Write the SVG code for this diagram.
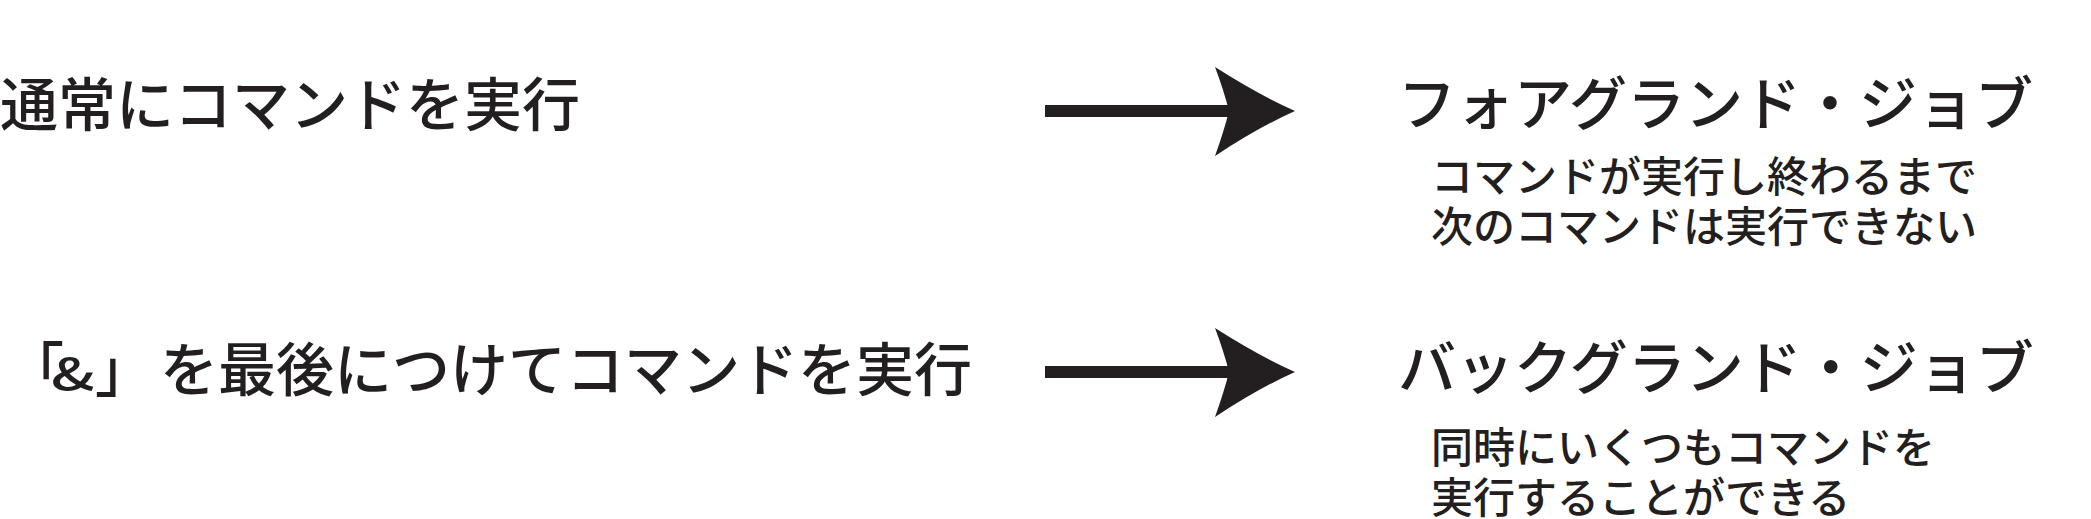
<svg xmlns="http://www.w3.org/2000/svg" xmlns:xlink="http://www.w3.org/1999/xlink" width="2091" height="519" viewBox="0 0 2091 519">
  <style>
    .t { font-family: "Noto Sans CJK JP", "Noto Sans", sans-serif; fill: #231f20; font-weight: 500; }
    .big { font-size: 58px; }
    .small { font-size: 42px; }
    .amp { font-size: 44px; }
    .line { stroke: #231f20; stroke-width: 12; fill: none; }
    .head { fill: #231f20; }
  </style>
  <defs>
    <path id="arrowhead" d="M 1295,0 Q 1259,-16 1215,-44 Q 1224,-20 1229,0 Q 1224,20 1215,45 Q 1259,16 1295,0 Z"/>
  </defs>
  <rect width="2091" height="519" fill="#ffffff"/>

  <g id="node-normal">
    <text class="t big" x="0" y="126">通常にコマンドを実行</text>
  </g>
  <g id="node-amp">
    <text class="t big" y="391"><tspan x="6">「</tspan><tspan x="95">」</tspan><tspan x="160">を最後につけてコマンドを実行</tspan></text>
    <text class="t amp" x="0" y="0" transform="translate(51,390) scale(1.4,1)">&amp;</text>
  </g>
  <g id="node-foreground">
    <text class="t big" x="1398" y="125">フォアグランド・ジョブ</text>
    <text class="t small" x="1431" y="192">コマンドが実行し終わるまで</text>
    <text class="t small" x="1431" y="242">次のコマンドは実行できない</text>
  </g>
  <g id="node-background">
    <text class="t big" x="1398" y="389">バックグランド・ジョブ</text>
    <text class="t small" x="1431" y="463">同時にいくつもコマンドを</text>
    <text class="t small" x="1431" y="513">実行することができる</text>
  </g>

  <g id="connectors">
    <line class="line" x1="1045" y1="111" x2="1230" y2="111"/>
    <use href="#arrowhead" xlink:href="#arrowhead" class="head" transform="translate(0,111)"/>
    <line class="line" x1="1045" y1="372" x2="1230" y2="372"/>
    <use href="#arrowhead" xlink:href="#arrowhead" class="head" transform="translate(0,372)"/>
  </g>
</svg>
